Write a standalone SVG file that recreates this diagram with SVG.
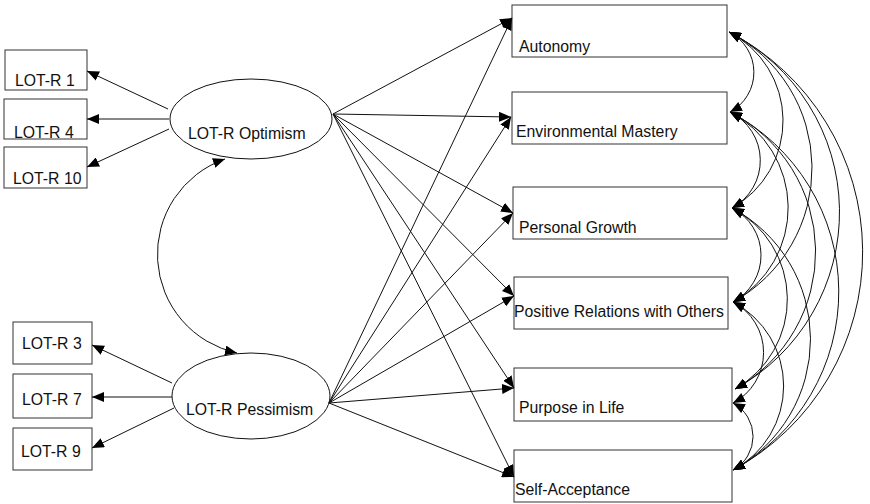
<svg xmlns="http://www.w3.org/2000/svg" width="870" height="504" viewBox="0 0 870 504">
  <style>
    .box { fill: #fff; stroke: #333; stroke-width: 1; }
    .lat { fill: #fff; stroke: #111; stroke-width: 1; }
    .lbl { font-family: "Liberation Sans", Arial, sans-serif; font-size: 15.8px; fill: #111; }
    .path { fill: none; stroke: #111; stroke-width: 1; marker-end: url(#ah); }
    .cov { fill: none; stroke: #111; stroke-width: 1; marker-start: url(#ah); marker-end: url(#ah); }
  </style>
  <defs>
    <marker id="ah" viewBox="0 0 12 10" refX="12" refY="5" markerWidth="12" markerHeight="10" markerUnits="userSpaceOnUse" orient="auto-start-reverse">
      <path d="M0,0 L12,5 L0,10 z" fill="#000"/>
    </marker>
  </defs>

  <!-- indicator boxes: optimism -->
  <g id="lotr1"><rect class="box" x="5" y="50" width="82" height="40"/><text class="lbl" x="15" y="86">LOT-R 1</text></g>
  <g id="lotr4"><rect class="box" x="4" y="99" width="83" height="40"/><text class="lbl" x="14" y="138">LOT-R 4</text></g>
  <g id="lotr10"><rect class="box" x="4" y="147" width="83" height="41"/><text class="lbl" x="13" y="184">LOT-R 10</text></g>

  <!-- indicator boxes: pessimism -->
  <g id="lotr3"><rect class="box" x="13" y="322" width="79" height="42"/><text class="lbl" x="22" y="349">LOT-R 3</text></g>
  <g id="lotr7"><rect class="box" x="13" y="374" width="79" height="44"/><text class="lbl" x="22" y="405">LOT-R 7</text></g>
  <g id="lotr9"><rect class="box" x="13" y="428" width="79" height="42"/><text class="lbl" x="21" y="457">LOT-R 9</text></g>

  <!-- latent factors -->
  <g id="optimism"><ellipse class="lat" cx="251" cy="119" rx="81" ry="40"/><text class="lbl" x="188" y="139">LOT-R Optimism</text></g>
  <g id="pessimism"><ellipse class="lat" cx="251" cy="396" rx="79" ry="43"/><text class="lbl" x="186" y="415">LOT-R Pessimism</text></g>

  <!-- outcome boxes -->
  <g id="autonomy"><rect class="box" x="512" y="5" width="215" height="52"/><text class="lbl" x="519" y="52">Autonomy</text></g>
  <g id="envmastery"><rect class="box" x="512" y="92" width="215" height="52"/><text class="lbl" x="516" y="137">Environmental Mastery</text></g>
  <g id="growth"><rect class="box" x="513" y="187" width="214" height="52"/><text class="lbl" x="519" y="233">Personal Growth</text></g>
  <g id="relations"><rect class="box" x="514" y="277" width="214" height="52"/><text class="lbl" x="514" y="317">Positive Relations with Others</text></g>
  <g id="purpose"><rect class="box" x="514" y="368" width="218" height="53"/><text class="lbl" x="519" y="413">Purpose in Life</text></g>
  <g id="selfaccept"><rect class="box" x="514" y="450" width="218" height="52"/><text class="lbl" x="515" y="495">Self-Acceptance</text></g>

  <g id="connectors">
    <!-- loadings -->
    <line class="path" x1="168" y1="109" x2="87" y2="71"/>
    <line class="path" x1="169" y1="119" x2="87" y2="119"/>
    <line class="path" x1="169" y1="129" x2="87" y2="167"/>
    <line class="path" x1="172" y1="383" x2="92" y2="345"/>
    <line class="path" x1="172" y1="397" x2="92" y2="397"/>
    <line class="path" x1="174" y1="408" x2="92" y2="448"/>

    <!-- factor covariance -->
    <path class="cov" d="M225,159 A101,101 0 0 0 237,353"/>

    <!-- regressions from optimism -->
    <line class="path" x1="333" y1="114" x2="512" y2="18"/>
    <line class="path" x1="333" y1="114" x2="511" y2="117"/>
    <line class="path" x1="333" y1="114" x2="513" y2="213"/>
    <line class="path" x1="333" y1="114" x2="514" y2="296"/>
    <line class="path" x1="333" y1="114" x2="514" y2="388"/>
    <line class="path" x1="333" y1="114" x2="514" y2="477"/>

    <!-- regressions from pessimism -->
    <line class="path" x1="329" y1="403" x2="512" y2="18"/>
    <line class="path" x1="329" y1="403" x2="511" y2="117"/>
    <line class="path" x1="329" y1="403" x2="513" y2="213"/>
    <line class="path" x1="329" y1="403" x2="514" y2="296"/>
    <line class="path" x1="329" y1="403" x2="514" y2="388"/>
    <line class="path" x1="329" y1="403" x2="514" y2="477"/>

    <!-- residual covariances among outcomes -->
    <path class="cov" d="M729,32 A45,45 0 0 1 730,112"/>
    <path class="cov" d="M729,32 A100,100 0 0 1 732,208"/>
    <path class="cov" d="M729,32 A153,153 0 0 1 733,302"/>
    <path class="cov" d="M729,32 A202,202 0 0 1 735,389"/>
    <path class="cov" d="M729,32 A248,248 0 0 1 733,470"/>
    <path class="cov" d="M730,112 A54,54 0 0 1 732,208"/>
    <path class="cov" d="M730,112 A108,108 0 0 1 733,302"/>
    <path class="cov" d="M730,112 A157,157 0 0 1 735,389"/>
    <path class="cov" d="M730,112 A203,203 0 0 1 733,470"/>
    <path class="cov" d="M732,208 A53,53 0 0 1 733,302"/>
    <path class="cov" d="M732,208 A103,103 0 0 1 735,389"/>
    <path class="cov" d="M732,208 A149,149 0 0 1 733,470"/>
    <path class="cov" d="M733,302 A57,57 0 0 1 733,403"/>
    <path class="cov" d="M733,302 A95,95 0 0 1 733,470"/>
    <path class="cov" d="M733,403 A38,38 0 0 1 733,470"/>
  </g>
</svg>
